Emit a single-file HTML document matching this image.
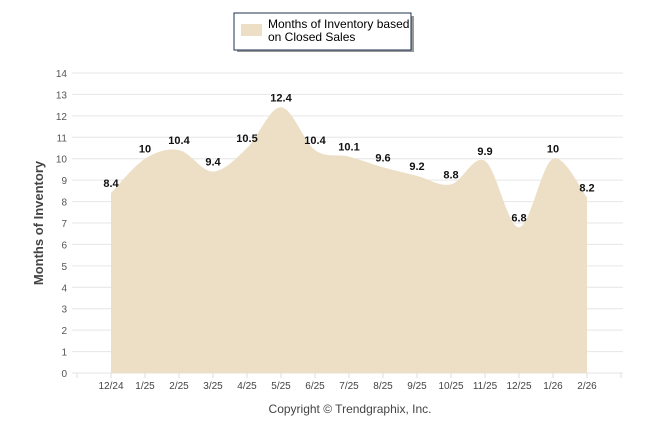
<!DOCTYPE html>
<html><head><meta charset="utf-8"><style>
body{margin:0;background:#fff;width:646px;height:434px;overflow:hidden;font-family:"Liberation Sans",sans-serif}
</style></head><body>
<svg width="646" height="434">
<g>
<rect x="237" y="16" width="177" height="36" fill="#333" opacity="0.5"/>
<rect x="234" y="13" width="177" height="37" fill="#fff" stroke="#1f3050" stroke-width="1"/>
<rect x="241" y="24" width="21" height="12" fill="#ecdfc5"/>
<text x="268" y="28" font-size="12" fill="#000">Months of Inventory based</text>
<text x="268" y="41" font-size="12" fill="#000">on Closed Sales</text>
</g>
<g id="grid"></g>
<path id="area" fill="#ecdfc5"/>
<g id="labels"></g>
<text x="43" y="223" font-size="13" font-weight="bold" fill="#444" transform="rotate(-90 43 223)" text-anchor="middle">Months of Inventory</text>
<text x="350" y="413" font-size="12" fill="#444" text-anchor="middle">Copyright © Trendgraphix, Inc.</text>
</svg>
<script>
const categories=["12/24","1/25","2/25","3/25","4/25","5/25","6/25","7/25","8/25","9/25","10/25","11/25","12/25","1/26","2/26"];
const values=[8.4,10,10.4,9.4,10.5,12.4,10.4,10.1,9.6,9.2,8.8,9.9,6.8,10,8.2];
const yTicks=[0,1,2,3,4,5,6,7,8,9,10,11,12,13,14];
const NS="http://www.w3.org/2000/svg";
const y=v=>373-v*(300/14);
const x=i=>111+34*i;
const g=document.getElementById('grid'),lb=document.getElementById('labels');
function mk(t,a,p){const e=document.createElementNS(NS,t);for(const k in a)e.setAttribute(k,a[k]);p.appendChild(e);return e;}
yTicks.forEach(t=>{
 const l=mk('line',{x1:72,x2:623,y1:y(t),y2:y(t),stroke:'#e6e6e6'},g);
 
 
 const tx=mk('text',{x:67,y:y(t)+4,'font-size':10,fill:'#555','text-anchor':'end'},g);tx.textContent=t;
 
 
});
for(let i=-1;i<=categories.length;i++){mk('line',{x1:x(i),x2:x(i),y1:373,y2:378,stroke:'#ddd'},g);}
categories.forEach((c,i)=>{
 const t=mk('text',{x:x(i),y:389,'font-size':10,fill:'#444','text-anchor':'middle'},g);t.textContent=c;
 
 
});
const pts=values.map((v,i)=>[x(i),y(v)]);
let d=`M${pts[0][0]},373 L${pts[0][0]},${pts[0][1]}`;
for(let i=0;i<pts.length-1;i++){
 const p0=pts[Math.max(0,i-1)],p1=pts[i],p2=pts[i+1],p3=pts[Math.min(pts.length-1,i+2)];
 const c1=[p1[0]+(p2[0]-p0[0])/6,p1[1]+(p2[1]-p0[1])/6],c2=[p2[0]-(p3[0]-p1[0])/6,p2[1]-(p3[1]-p1[1])/6];
 d+=` C${c1[0]},${c1[1]} ${c2[0]},${c2[1]} ${p2[0]},${p2[1]}`;
}
d+=` L${pts[pts.length-1][0]},373 Z`;
document.getElementById('area').setAttribute('d',d);
values.forEach((v,i)=>{
 const t=mk('text',{x:x(i),y:y(v)-6,'font-size':11,'font-weight':'bold',fill:'#111','text-anchor':'middle'},lb);t.textContent=v;
 
 
});
</script>
</body></html>
